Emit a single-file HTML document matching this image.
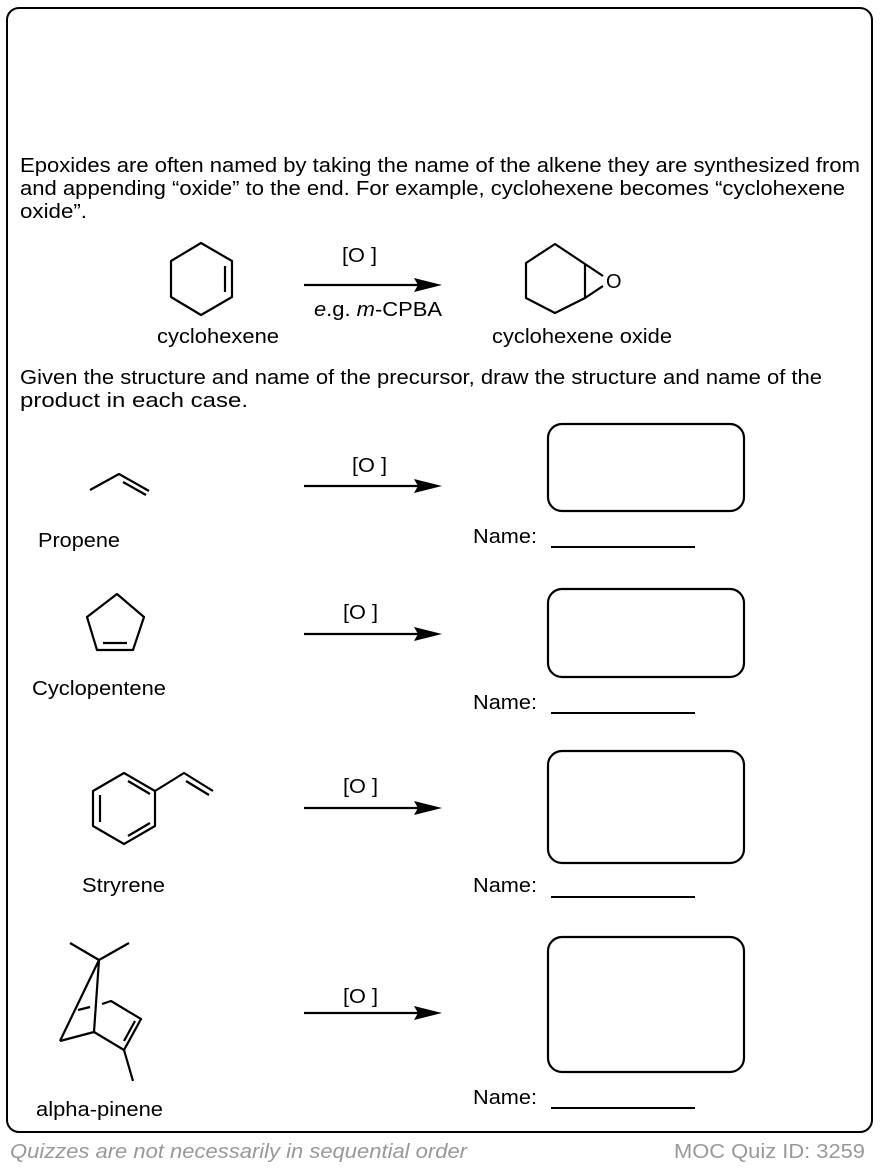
<!DOCTYPE html>
<html><head><meta charset="utf-8"><style>
html,body{margin:0;padding:0;background:#fff;}
svg{display:block;font-family:"Liberation Sans",Arial,sans-serif;}
</style></head><body>
<svg width="880" height="1168" viewBox="0 0 880 1168" xmlns="http://www.w3.org/2000/svg">
<rect x="7" y="8" width="865" height="1124" rx="12" fill="#fff" stroke="#000" stroke-width="2"/>
<g font-size="20" fill="#000">
<text x="20" y="172" textLength="840" lengthAdjust="spacingAndGlyphs">Epoxides are often named by taking the name of the alkene they are synthesized from</text>
<text x="20" y="195" textLength="825" lengthAdjust="spacingAndGlyphs">and appending “oxide” to the end. For example, cyclohexene becomes “cyclohexene</text>
<text x="20" y="218" textLength="67" lengthAdjust="spacingAndGlyphs">oxide”.</text>
<text x="157" y="343" textLength="122" lengthAdjust="spacingAndGlyphs">cyclohexene</text>
<text x="492" y="343" textLength="180" lengthAdjust="spacingAndGlyphs">cyclohexene oxide</text>
<text x="342" y="262" textLength="35" lengthAdjust="spacingAndGlyphs">[O ]</text>
<text x="314" y="316" textLength="128" lengthAdjust="spacingAndGlyphs"><tspan font-style="italic">e</tspan>.g. <tspan font-style="italic">m</tspan>-CPBA</text>
<text x="20" y="384" textLength="802" lengthAdjust="spacingAndGlyphs">Given the structure and name of the precursor, draw the structure and name of the</text>
<text x="20" y="407" textLength="228" lengthAdjust="spacingAndGlyphs">product in each case.</text>
<text x="352" y="472" textLength="35" lengthAdjust="spacingAndGlyphs">[O ]</text>
<text x="343" y="619" textLength="35" lengthAdjust="spacingAndGlyphs">[O ]</text>
<text x="343" y="793" textLength="35" lengthAdjust="spacingAndGlyphs">[O ]</text>
<text x="343" y="1003" textLength="35" lengthAdjust="spacingAndGlyphs">[O ]</text>
<text x="38" y="547" textLength="82" lengthAdjust="spacingAndGlyphs">Propene</text>
<text x="32" y="695" textLength="134" lengthAdjust="spacingAndGlyphs">Cyclopentene</text>
<text x="82" y="892" textLength="83" lengthAdjust="spacingAndGlyphs">Stryrene</text>
<text x="36" y="1116" textLength="127" lengthAdjust="spacingAndGlyphs">alpha-pinene</text>
<text x="473" y="543" textLength="64" lengthAdjust="spacingAndGlyphs">Name:</text>
<text x="473" y="709" textLength="64" lengthAdjust="spacingAndGlyphs">Name:</text>
<text x="473" y="892" textLength="64" lengthAdjust="spacingAndGlyphs">Name:</text>
<text x="473" y="1104" textLength="64" lengthAdjust="spacingAndGlyphs">Name:</text>
<text x="606" y="288">O</text>
</g>
<g fill="#999" font-size="20" font-style="italic"><text x="10" y="1158" textLength="457" lengthAdjust="spacingAndGlyphs">Quizzes are not necessarily in sequential order</text></g>
<g fill="#999" font-size="20"><text x="674" y="1158" textLength="191" lengthAdjust="spacingAndGlyphs">MOC Quiz ID: 3259</text></g>
<g fill="none" stroke="#000" stroke-width="2.2" stroke-linejoin="round">
<polygon points="201,243 232,261 232,297 201,315 171,297 171,261"/>
<line x1="225" y1="266" x2="225" y2="292"/>
<polygon points="555,244 585,264 585,298 555,313 526,298 526,263"/>
<line x1="585" y1="264" x2="603" y2="276"/>
<line x1="585" y1="298" x2="603" y2="286"/>
<line x1="304" y1="285" x2="420" y2="285"/>
<line x1="304" y1="486" x2="420" y2="486"/>
<line x1="304" y1="634" x2="420" y2="634"/>
<line x1="304" y1="808" x2="420" y2="808"/>
<line x1="304" y1="1013" x2="420" y2="1013"/>
<polyline points="90,490 119,474 149,491"/>
<line x1="123" y1="482" x2="146" y2="495"/>
<polygon points="117,594 144,617 133,650 97,650 87,617"/>
<line x1="103" y1="643" x2="127" y2="643"/>
<polygon points="124,773 155,791 155,826 124,844 93,826 93,791"/>
<line x1="128" y1="781" x2="150" y2="794"/>
<line x1="100" y1="795" x2="100" y2="822"/>
<line x1="128" y1="836" x2="150" y2="823"/>
<polyline points="155,791 184,773 213,791"/>
<line x1="186" y1="781" x2="209" y2="795"/>
<line x1="70" y1="943" x2="99" y2="960"/>
<line x1="129" y1="943" x2="99" y2="960"/>
<line x1="99" y1="960" x2="94" y2="1032"/>
<line x1="99" y1="960" x2="60" y2="1041"/>
<line x1="60" y1="1041" x2="94" y2="1032"/>
<polyline points="94,1032 124,1050 141,1019 111,1001 102,1004"/>
<line x1="90" y1="1007" x2="78" y2="1010"/>
<line x1="124" y1="1041" x2="135" y2="1021"/>
<line x1="124" y1="1050" x2="133" y2="1081"/>
<rect x="548" y="424" width="196" height="87" rx="14"/>
<rect x="548" y="589" width="196" height="88" rx="14"/>
<rect x="548" y="751" width="196" height="112" rx="14"/>
<rect x="548" y="937" width="196" height="135" rx="14"/>
</g>
<g stroke="#000" stroke-width="2">
<line x1="551" y1="547" x2="695" y2="547"/>
<line x1="551" y1="713" x2="695" y2="713"/>
<line x1="551" y1="897" x2="695" y2="897"/>
<line x1="551" y1="1108" x2="695" y2="1108"/>
</g>
<g fill="#000">
<polygon points="442,285 414,278 418,285 414,292"/>
<polygon points="442,486 414,479 418,486 414,493"/>
<polygon points="442,634 414,627 418,634 414,641"/>
<polygon points="442,808 414,801 418,808 414,815"/>
<polygon points="442,1013 414,1006 418,1013 414,1020"/>
</g>
</svg>
</body></html>
